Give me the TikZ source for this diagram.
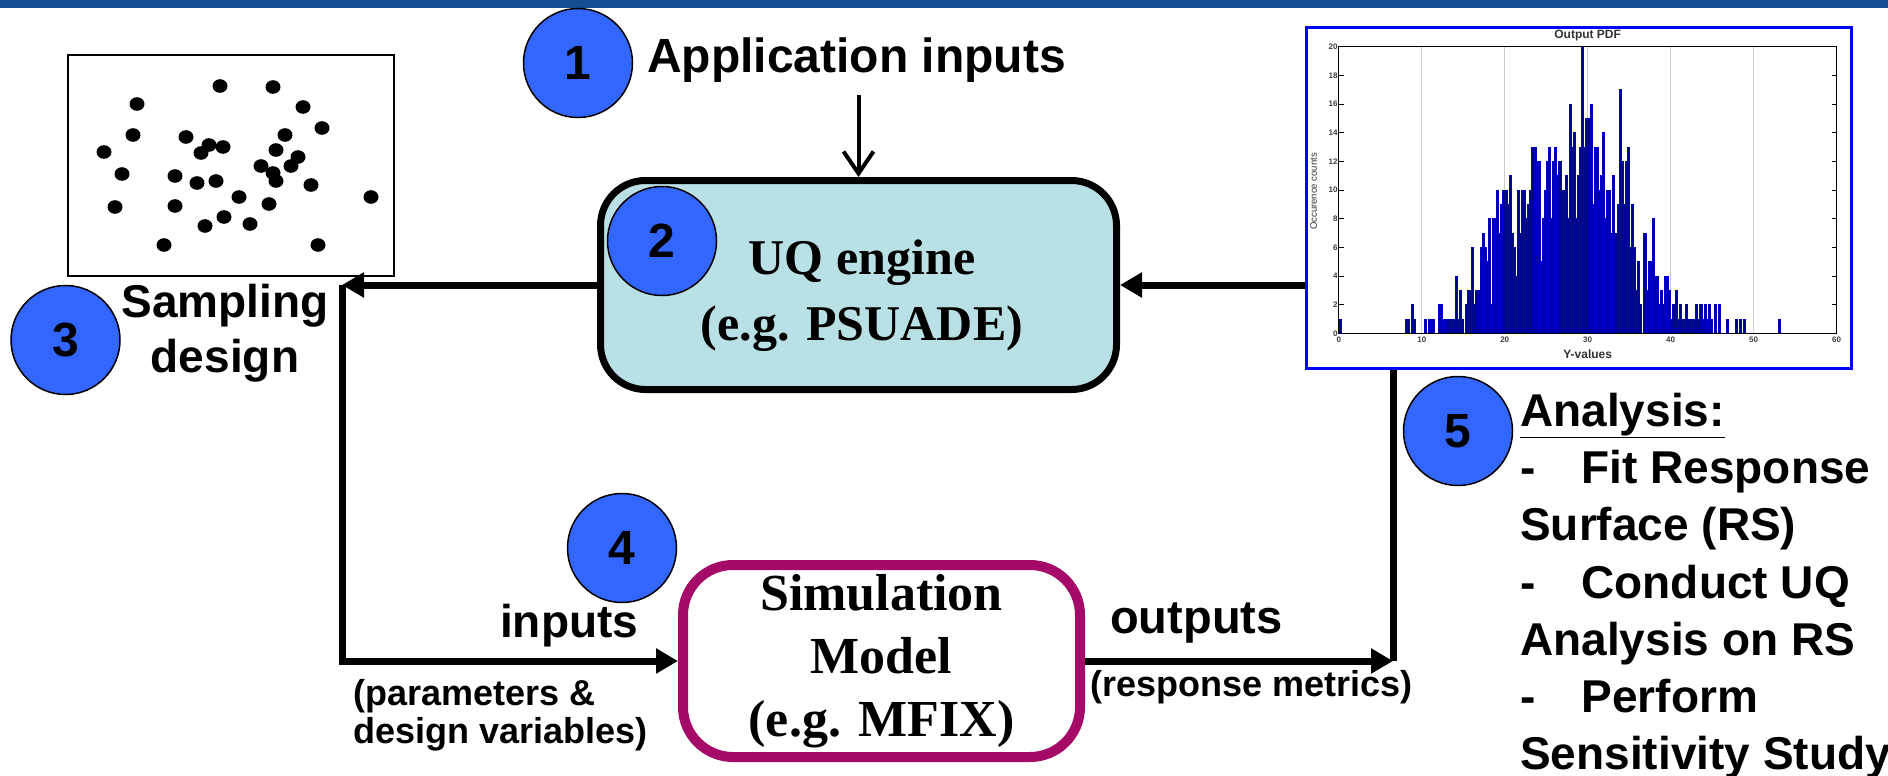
\documentclass[tikz,border=0pt]{standalone}
\usepackage{fontspec}
\setmainfont{Liberation Serif}
\setsansfont{Liberation Sans}
\usetikzlibrary{arrows.meta}
\definecolor{topbar}{RGB}{20,77,145}
\definecolor{uqfill}{RGB}{185,224,228}
\definecolor{simline}{RGB}{165,10,105}
\definecolor{numblue}{RGB}{51,102,255}
\definecolor{barnavy}{RGB}{0,0,140}
\newcommand\fsz[2]{\fontsize{#1}{#2}\selectfont}

\begin{document}
\begin{tikzpicture}[x=1pt,y=-1pt,
  flow/.style={line width=7pt,-{Triangle[length=22pt,width=24pt]}},
  link/.style={line width=7pt},
  num/.style={circle,draw,line width=1.5pt,fill=numblue,minimum size=109pt,inner sep=0pt,
    font=\sffamily\bfseries\fsz{48}{48}},
  bigtxt/.style={font=\sffamily\bfseries\fsz{46}{55},inner sep=0pt},
  smalltxt/.style={font=\sffamily\bfseries\fsz{36}{38},inner sep=0pt},
  tick/.style={font=\sffamily\bfseries\fsz{8}{8},text=black!75,inner sep=1pt}]
\useasboundingbox (0,0) rectangle (1888,776);
\fill[topbar] (0,0) rectangle (1888,8);

% sampling design
\node[draw,line width=1.7pt,minimum width=326pt,minimum height=221pt,inner sep=0pt] (samp) at (231,165.5) {};
\foreach \x/\y in {220/86,273/87,137/104,303/107,322/128,133/135,186/137,209/145,201/153,
  223/147,285/135,276/150,104/152,298/157,291/166,261/166,122/174,175/176,197/183,216/181,
  273/173,276/181,311/185,371/197,115/207,175/206,239/197,269/204,224/217,205/226,250/224,
  164/245,318/245}
  \fill (\x,\y) ellipse [x radius=7.5pt,y radius=6.8pt];

% boxes
\node[draw,line width=7pt,rounded corners=45pt,fill=uqfill,minimum width=516pt,minimum height=209pt] (uq) at (858.5,285) {};
\node[font=\rmfamily\bfseries\fsz{50}{66},align=center,inner sep=0pt] (uqtxt) at (862,296) {UQ engine\\(e.g. PSUADE)};
\node[draw=simline,line width=10pt,rounded corners=50pt,minimum width=397pt,minimum height=192pt,
  font=\rmfamily\bfseries\fsz{52}{63},align=center,inner sep=0pt] (sim) at (881.5,661) {Simulation\\Model\\(e.g. MFIX)};

% output pdf
\node[draw=blue,line width=3pt,fill=white,minimum width=545pt,minimum height=340pt] (hist) at (1578.5,198) {};
\begin{scope}[shift={(1338.8,333.3)},x=8.295pt,y=14.33pt]
  \foreach \g in {10,20,...,50}
    \draw[black!20,line width=0.8pt] (\g,0) -- (\g,20);
  \foreach \h [count=\i from 0] in {2,2,1,1,1,1,1,1,4,1,3,1,0,2,3,3,6,2,3,3,6,7,6,5,8,2,8,8,
    10,7,9,10,10,9,11,7,6,4,10,7,10,10,8,9,10,13,13,12,12,5,8,10,12,13,8,12,13,11,12,10,10,11,
    8,16,13,14,8,11,13,20,13,15,15,16,9,13,13,10,11,14,8,10,10,7,11,7,9,17,12,9,12,13,6,9,6,3,
    5,2,0,7,3,5,5,8,4,4,2,3,2,4,4,3,1,2,3,1,2,1,1,2,1,1,1,1,2,1,2,1,2,1,2,1,0,2}
    \filldraw[fill=barnavy,draw=blue!75!black,line width=0.4pt] ({12+0.25*\i},0) rectangle ++(0.25,\h);
  \foreach \a/\h in {0/1,8/1,8.25/1,8.75/2,9/1,10.25/1,10.75/1,11/1,11.25/1,45.75/2,46.75/1,
    47.75/1,48.25/1,48.75/1,53/1}
    \filldraw[fill=barnavy,draw=blue!75!black,line width=0.4pt] (\a,0) rectangle ++(0.25,\h);
  \draw[line width=1.2pt] (0,0) rectangle (60,20);
  \foreach \t in {0,2,...,20} {
    \draw[line width=0.8pt] (0,\t) -- ++(0.6,0);
    \draw[line width=0.8pt] (60,\t) -- ++(-0.6,0);
    \node[tick,anchor=east] (yt\t) at (0,\t) {\t};
  }
  \foreach \t in {0,10,...,60}
    \node[tick,anchor=north] (xt\t) at (\t,-0.2) {\t};
  \node[font=\sffamily\bfseries\fsz{12}{12},text=black!80] (ptitle) at (30,20.75) {Output PDF};
  \node[font=\sffamily\bfseries\fsz{12}{12},text=black!80] (pxlab) at (30,-1.45) {Y-values};
  \node[font=\sffamily\fsz{9.5}{9.5},text=black!80,rotate=90] (pylab) at (-3.05,9.9) {Occurence counts};
\end{scope}

% labels
\node[bigtxt,font=\sffamily\bfseries\fsz{48}{55},anchor=base west] (app) at (647,73) {Application inputs};
\node[bigtxt,align=center] (sdtxt) at (225,333) {Sampling\\design};
\node[bigtxt,anchor=base west] (inp) at (500,637) {inputs};
\node[bigtxt,font=\sffamily\bfseries\fsz{47}{55},anchor=base west] (outp) at (1110,633) {outputs};
\node[smalltxt,anchor=west,align=left] (par) at (353,715) {(parameters \&\\design variables)};
\node[smalltxt,anchor=base west] (resp) at (1090,696) {(response metrics)};
\node[bigtxt,font=\sffamily\bfseries\fsz{46}{57.2},anchor=north west,align=left] (ana) at (1520,393)
  {\underline{Analysis:}\\-\hspace{46pt}Fit Response\\Surface (RS)\\-\hspace{46pt}Conduct UQ\\Analysis on RS\\-\hspace{46pt}Perform\\Sensitivity Study};

% numbers
\node[num] (n1) at (578,63) {1};
\node[num] (n2) at (662,241) {2};
\node[num] (n3) at (65.5,340) {3};
\node[num] (n4) at (622,548) {4};
\node[num] (n5) at (1458,431) {5};

% connectors
\coordinate (sdc) at (342,285);
\coordinate (out) at (1393,661);
\draw[line width=4pt,-{Straight Barb[length=22pt,width=30pt]}] ([yshift=-12pt]uq.north |- app.south) -- (uq.north);
\draw[flow] (uq.west) -- (sdc);
\draw[flow] (sdc) |- (sim.west);
\draw[flow] (hist.west |- uq.east) -- (uq.east);
\draw[flow] (sim.east) -- (out);
\draw[link] (out) -- (out |- hist.south);
\end{tikzpicture}
\end{document}
